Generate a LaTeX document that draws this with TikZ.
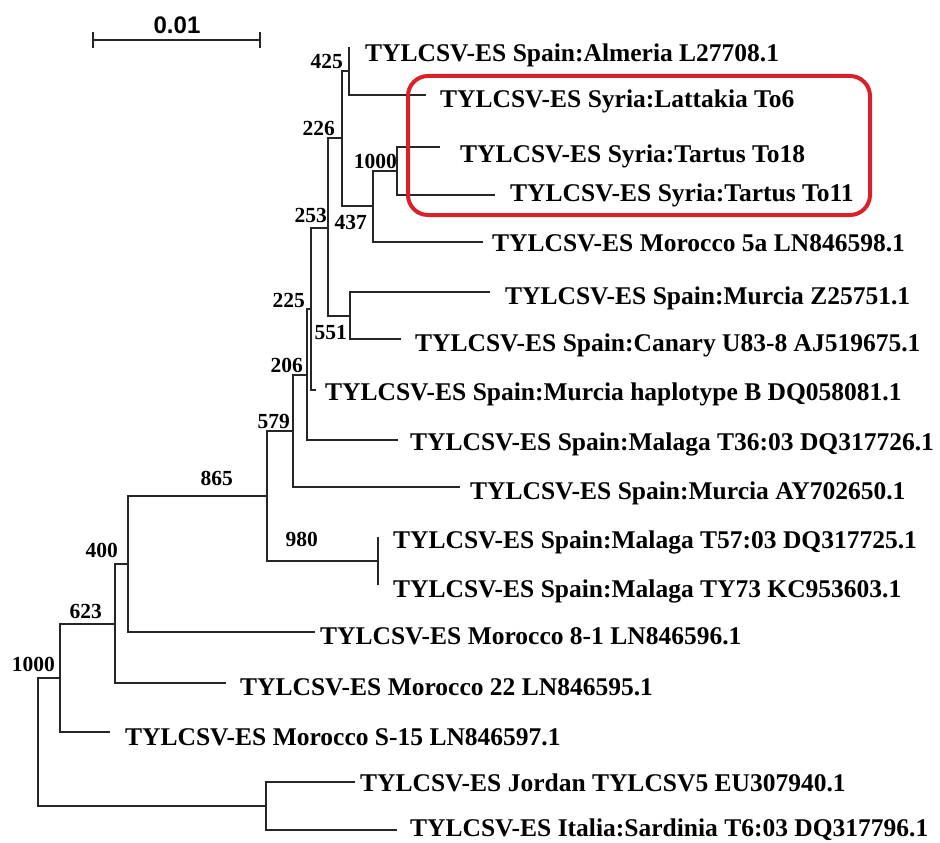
\documentclass[tikz,border=0pt]{standalone}
\usepackage{fontspec}
\setmainfont{Liberation Serif}
\setsansfont{Liberation Sans}
\definecolor{boxred}{RGB}{218,32,42}

\tikzset{
  branch/.style={line width=1.9pt, black!85},
  taxon/.style={anchor=west, inner sep=0pt, text height=0.66em, text depth=0pt,
    yshift=-4pt, font=\fontsize{25.5}{25.5}\selectfont\bfseries},
  boot/.style={anchor=east, inner sep=0pt, text height=0.68em, text depth=0pt,
    yshift=-3pt, font=\fontsize{21.5}{21.5}\selectfont\bfseries},
  hilite/.style={draw=boxred, line width=4pt, rounded corners=20pt}
}

\begin{document}
\begin{tikzpicture}[x=1pt,y=-1pt]
  \useasboundingbox (0,0) rectangle (940,843);

  % scale bar
  \coordinate (sb1) at (93,40);
  \coordinate (sb2) at (260,40);
  \draw[branch] (sb1) -- (sb2);
  \draw[branch] ([yshift=8pt]sb1) -- ([yshift=-8pt]sb1);
  \draw[branch] ([yshift=8pt]sb2) -- ([yshift=-8pt]sb2);
  \node (sblabel) [inner sep=0pt, font=\sffamily\bfseries\fontsize{24}{24}\selectfont]
    at (177,25) {0.01};

  % taxa
  \foreach \i/\x/\y/\t in
  {alm/365/54/{TYLCSV-ES Spain:Almeria L27708.1},
    lat/440/100/{TYLCSV-ES Syria:Lattakia To6},
    tta/460/155/{TYLCSV-ES Syria:Tartus To18},
    ttb/510/194/{TYLCSV-ES Syria:Tartus To11},
    mfa/492/244/{TYLCSV-ES Morocco 5a LN846598.1},
    mur/505/297/{TYLCSV-ES Spain:Murcia Z25751.1},
    can/415/344/{TYLCSV-ES Spain:Canary U83-8 AJ519675.1},
    hap/325/393/{TYLCSV-ES Spain:Murcia haplotype B DQ058081.1},
    tts/410/443/{TYLCSV-ES Spain:Malaga T36:03 DQ317726.1},
    may/470/492/{TYLCSV-ES Spain:Murcia AY702650.1},
    tfs/393/541/{TYLCSV-ES Spain:Malaga T57:03 DQ317725.1},
    tys/393/590/{TYLCSV-ES Spain:Malaga TY73 KC953603.1},
    mea/320/637/{TYLCSV-ES Morocco 8-1 LN846596.1},
    mtt/240/688/{TYLCSV-ES Morocco 22 LN846595.1},
    msf/125/738/{TYLCSV-ES Morocco S-15 LN846597.1},
    jor/360/784/{TYLCSV-ES Jordan TYLCSV5 EU307940.1},
    ita/410/829/{TYLCSV-ES Italia:Sardinia T6:03 DQ317796.1}}
  \node[taxon] (\i) at (\x,\y) {\t};

  % branch tips
  \foreach \i/\x/\y in
  {alm/349/47, lat/426/95, tta/440/147, ttb/495/195, mfa/483/242,
    mur/490/292, can/401/339, hap/316/390, tts/398/440, may/460/487,
    tfs/378/537, tys/378/585, mea/315/632, mtt/226/683, msf/110/732,
    jor/355/782, ita/397/830}
  \coordinate (e\i) at (\x,\y);

  % internal nodes
  \coordinate (n425) at (349,71);
  \coordinate (n1000a) at (397,171);
  \coordinate (n437) at (373,206);
  \coordinate (n226) at (342,138);
  \coordinate (n551) at (350,316);
  \coordinate (n253) at (328,228);
  \coordinate (n225) at (311,309);
  \coordinate (n206) at (307,375);
  \coordinate (n579) at (293,431);
  \coordinate (n980) at (378,561);
  \coordinate (n865) at (267,496);
  \coordinate (n400) at (128,564);
  \coordinate (n623) at (115,624);
  \coordinate (n1000b) at (60,678);
  \coordinate (nji) at (266,806);
  \coordinate (root) at (38,742);

  \draw[branch] (ealm) -| (n425) |- (elat);
  \draw[branch] (etta) -| (n1000a) |- (ettb);
  \draw[branch] (n1000a) -| (n437) |- (emfa);
  \draw[branch] (n425) -| (n226) |- (n437);
  \draw[branch] (emur) -| (n551) |- (ecan);
  \draw[branch] (n226) -| (n253) |- (n551);
  \draw[branch] (n253) -| (n225) |- (ehap);
  \draw[branch] (n225) -| (n206) |- (etts);
  \draw[branch] (n206) -| (n579) |- (emay);
  \draw[branch] (etfs) -| (n980) |- (etys);
  \draw[branch] (n579) -| (n865) |- (n980);
  \draw[branch] (n865) -| (n400) |- (emea);
  \draw[branch] (n400) -| (n623) |- (emtt);
  \draw[branch] (n623) -| (n1000b) |- (emsf);
  \draw[branch] (ejor) -| (nji) |- (eita);
  \draw[branch] (n1000b) -| (root) |- (nji);

  % bootstrap values
  \foreach \v/\x/\y [count=\k] in
  {425/343/62, 226/335/129, 1000/397/162, 253/327/216, 437/367/223,
    225/305/301, 551/347/333, 206/303/366, 579/290/422, 865/233/479,
    980/318/540, 400/118/551, 623/102/612, 1000/55/665}
  \node[boot] (bs\k) at (\x,\y) {\v};

  \draw[hilite] (408,76) rectangle (870,215);

\end{tikzpicture}
\end{document}
